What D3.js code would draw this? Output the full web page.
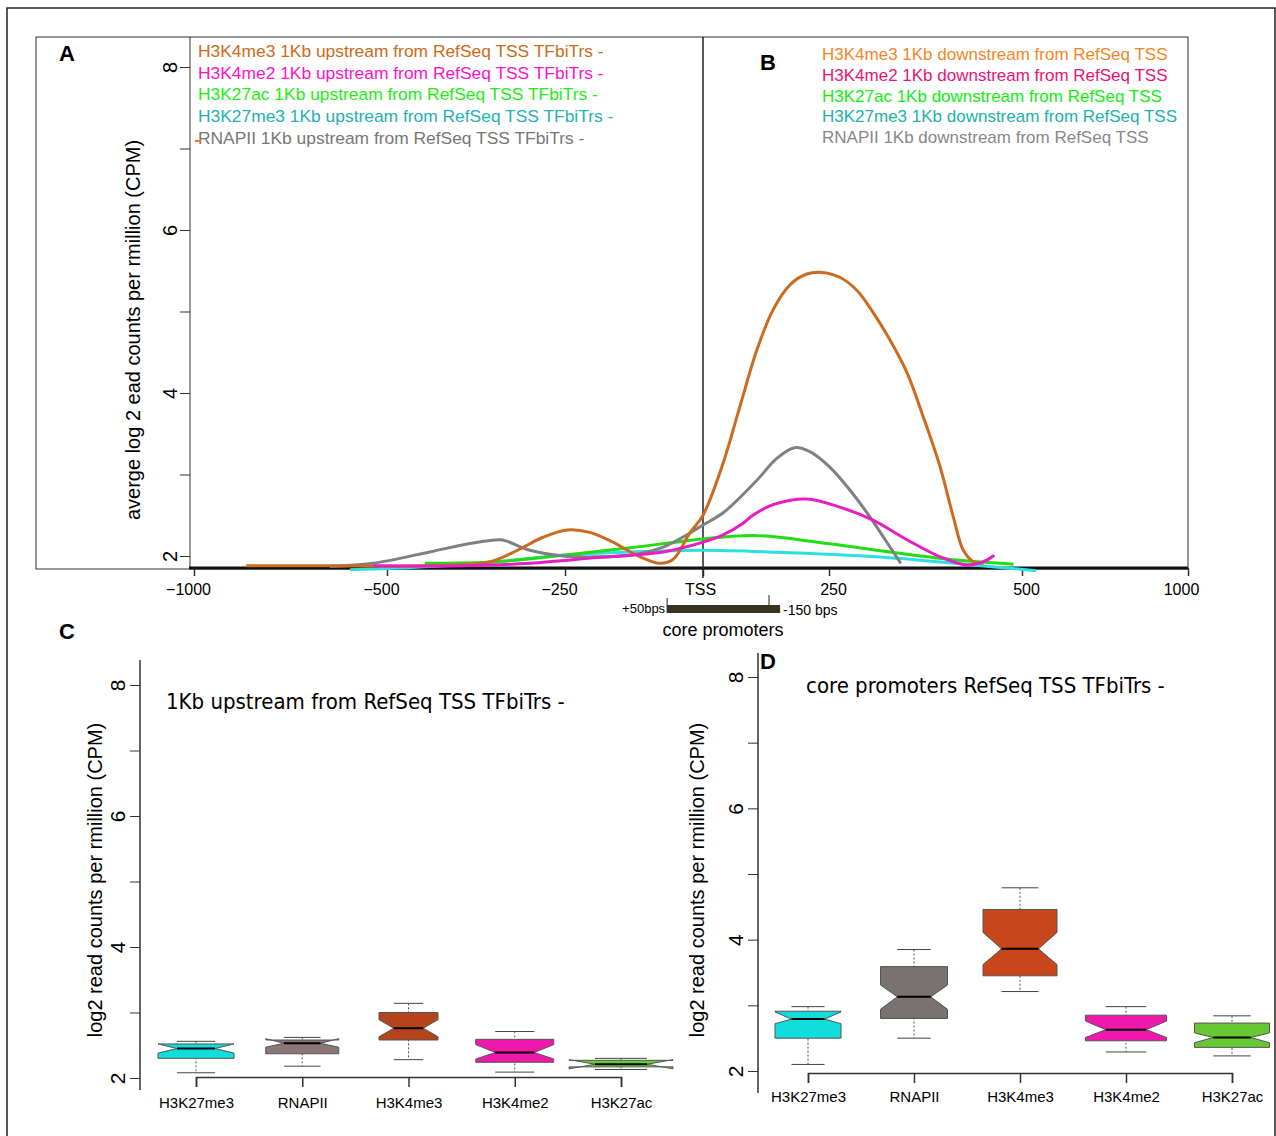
<!DOCTYPE html>
<html lang="en">
<head>
  <meta charset="UTF-8">
  <title>Histone marks around RefSeq TSS</title>
  <style>
  body {
    margin: 0;
    background: white;
  }
  svg {
    display: block;
    font-family: 'Liberation Sans', Arial, sans-serif;
  }
  .axis text {
    fill: #000;
  }
  .axis line {
    stroke: #333;
  }
  .title {
    font-family: 'DejaVu Sans Condensed', 'DejaVu Sans', sans-serif;
    font-stretch: condensed;
    font-size: 22px;
  }
  .letter {
    font-weight: bold;
    font-size: 22px;
  }
  </style>
</head>
<body>
  <script src="https://d3js.org/d3.v7.min.js"></script>
  <script>

  // ---- panel A/B: average profiles (bp from TSS, log2 CPM) ----
  var xTicksA = [-1000, -500, -250, 0, 250, 500, 1000];
  var yTicks = [2, 3, 4, 5, 6, 7, 8];

  var h3k4me3 = [[-865, 1.88], [-650, 1.88], [-450, 1.88], [-355, 1.93], [-317, 2.07], [-281, 2.23],
    [-246, 2.32], [-205, 2.29], [-163, 2.17], [-120, 2.01], [-78, 1.91], [-54, 1.96], [-24, 2.28],
    [0, 2.50], [40, 3.14], [73, 3.83], [107, 4.53], [139, 5.02], [173, 5.33], [206, 5.46],
    [236, 5.48], [264, 5.42], [286, 5.26], [307, 4.99], [329, 4.65], [351, 4.25], [372, 3.71],
    [394, 3.09], [411, 2.48], [424, 2.07], [437, 1.93], [450, 1.91]];
  var rnapii = [[-648, 1.87], [-536, 1.91], [-440, 2.05], [-379, 2.16], [-341, 2.20], [-331, 2.18],
    [-299, 2.07], [-253, 2.00], [-192, 1.99], [-132, 2.01], [-72, 2.11], [-24, 2.28], [0, 2.38],
    [40, 2.53], [107, 2.93], [147, 3.20], [183, 3.33], [212, 3.28], [251, 3.09], [277, 2.81],
    [303, 2.48], [329, 2.11], [343, 1.91]];
  var h3k4me2 = [[-536, 1.88], [-394, 1.88], [-299, 1.91], [-192, 1.98], [-72, 2.05], [0, 2.17],
    [40, 2.26], [79, 2.40], [99, 2.50], [139, 2.63], [206, 2.70], [264, 2.60], [307, 2.44],
    [351, 2.20], [394, 1.99], [428, 1.89], [450, 1.93], [464, 2.01]];
  var h3k27ac = [[-447, 1.91], [-346, 1.93], [-253, 2.01], [-132, 2.10], [0, 2.21], [107, 2.25],
    [227, 2.17], [329, 2.05], [416, 1.95], [489, 1.90]];
  var h3k27me3 = [[-596, 1.83], [-440, 1.87], [-346, 1.93], [-253, 2.01], [-132, 2.05], [0, 2.07],
    [173, 2.04], [329, 1.98], [437, 1.89], [542, 1.82]];

  var coreBar = [-65, 153];
  var coreMark = 131;

  var upstreamLabels = [
    'H3K4me3 1Kb upstream from RefSeq TSS TFbiTrs -',
    'H3K4me2 1Kb upstream from RefSeq TSS TFbiTrs -',
    'H3K27ac 1Kb upstream from RefSeq TSS TFbiTrs -',
    'H3K27me3 1Kb upstream from RefSeq TSS TFbiTrs -',
    'RNAPII 1Kb upstream from RefSeq TSS TFbiTrs -'
  ];
  var downstreamLabels = [
    'H3K4me3 1Kb downstream from RefSeq TSS',
    'H3K4me2 1Kb downstream from RefSeq TSS',
    'H3K27ac 1Kb downstream from RefSeq TSS',
    'H3K27me3 1Kb downstream from RefSeq TSS',
    'RNAPII 1Kb downstream from RefSeq TSS'
  ];

  // ---- panel C/D: boxplots ----
  var categories = ['H3K27me3', 'RNAPII', 'H3K4me3', 'H3K4me2', 'H3K27ac'];

  var upLow = [2.08, 2.18, 2.28, 2.09, 2.13];
  var upQ1 = [2.30, 2.37, 2.58, 2.24, 2.17];
  var upMed = [2.45, 2.53, 2.76, 2.39, 2.21];
  var upQ3 = [2.52, 2.58, 3.00, 2.59, 2.27];
  var upHigh = [2.56, 2.62, 3.14, 2.71, 2.30];
  var upNotchLo = [2.38, 2.47, 2.63, 2.29, 2.14];
  var upNotchHi = [2.52, 2.60, 2.89, 2.51, 2.28];

  var coreLow = [2.10, 2.50, 3.21, 2.29, 2.23];
  var coreQ1 = [2.50, 2.80, 3.45, 2.46, 2.36];
  var coreMed = [2.79, 3.13, 3.86, 2.63, 2.51];
  var coreQ3 = [2.91, 3.59, 4.46, 2.85, 2.73];
  var coreHigh = [2.98, 3.85, 4.79, 2.98, 2.84];
  var coreNotchLo = [2.72, 2.94, 3.62, 2.51, 2.43];
  var coreNotchHi = [2.90, 3.31, 4.11, 2.76, 2.58];

  // ---- styles ----
  var upColors = ['#cc6a1a', '#ff11cc', '#22ee11', '#22b2b2', '#777777'];
  var downColors = ['#f7851f', '#ee1177', '#11ee11', '#20b2aa', '#888888'];
  var upBoxColors = ['#11dddd', '#8c7575', '#b5441c', '#ee18aa', '#66cc33'];
  var coreBoxColors = ['#11dddd', '#7a7171', '#c8461b', '#ee18aa', '#66c833'];
  var upBoxWidths = [76, 73, 59, 78, 104];
  var coreBoxWidths = [66, 67, 74, 81, 75];

  var svg = d3.select('body').append('svg')
              .attr('width', 1276)
              .attr('height', 1136);

  svg.append('rect')
     .attr('x', 7).attr('y', 8)
     .attr('width', 1268).attr('height', 1140)
     .attr('fill', 'none')
     .attr('stroke', '#222')
     .attr('stroke-width', 1.5);

  // ================= panel A / B =================
  var xA = d3.scaleLinear().domain(xTicksA).range([194, 387, 565, 703, 829, 1022, 1188]);
  var yA = d3.scaleLinear().domain([2, 8]).range([556, 67]);

  svg.append('rect')
     .attr('x', 36).attr('y', 37)
     .attr('width', 1152).attr('height', 532)
     .attr('fill', 'none')
     .attr('stroke', '#333')
     .attr('stroke-width', 1);

  function rotatedYAxis(g, scale, shift, size) {
    g.call(d3.axisLeft(scale)
             .tickValues(yTicks)
             .tickSize(10)
             .tickFormat(function (d) { return d % 2 ? '' : d; }));
    g.select('.domain').remove();
    g.selectAll('.tick line')
     .attr('stroke', function (d) { return d % 2 ? '#888' : '#333'; });
    g.selectAll('.tick text')
     .attr('x', null)
     .attr('dy', '0.35em')
     .attr('text-anchor', 'middle')
     .attr('transform', 'translate(' + shift + ',0) rotate(-90)')
     .style('font-size', size + 'px');
  }

  var gyA = svg.append('g').attr('class', 'axis').attr('transform', 'translate(190,0)');
  rotatedYAxis(gyA, yA, -20, 20);
  svg.append('line')
     .attr('x1', 190).attr('x2', 190)
     .attr('y1', 37).attr('y2', 569)
     .attr('stroke', '#333');

  var gxA = svg.append('g').attr('class', 'axis').attr('transform', 'translate(0,568)');
  gxA.call(d3.axisBottom(xA)
             .tickValues(xTicksA)
             .tickSize(8)
             .tickPadding(8)
             .tickFormat(function (d) {
               if (d === 0) return 'TSS';
               return d < 0 ? '\u2212' + (-d) : d;
             }));
  gxA.select('.domain').remove();
  gxA.selectAll('.tick line').attr('stroke', '#111').attr('stroke-width', 1.5);
  gxA.selectAll('.tick text')
     .style('font-size', '16px')
     .attr('dx', function (d) { return d < 0 ? -6 : (d === 1000 ? -7 : (d === 0 ? -3 : 4)); });

  svg.append('line')
     .attr('x1', 189).attr('x2', 1188)
     .attr('y1', 568).attr('y2', 568)
     .attr('stroke', '#111')
     .attr('stroke-width', 3);

  svg.append('line')
     .attr('x1', xA(0)).attr('x2', xA(0))
     .attr('y1', 37).attr('y2', 578)
     .attr('stroke', '#222')
     .attr('stroke-width', 1.5);

  var line = d3.line()
               .x(function (d) { return xA(d[0]); })
               .y(function (d) { return yA(d[1]); })
               .curve(d3.curveCatmullRom.alpha(0.5));

  var curves = [
    { data: h3k27me3, color: '#2ae0e0' },
    { data: h3k27ac, color: '#22dd11' },
    { data: rnapii, color: '#808080' },
    { data: h3k4me3, color: '#cc6a1f' },
    { data: h3k4me2, color: '#e81ec4' }
  ];

  svg.append('g')
     .selectAll('path')
     .data(curves)
     .enter()
     .append('path')
     .attr('d', function (d) { return line(d.data); })
     .attr('fill', 'none')
     .attr('stroke', function (d) { return d.color; })
     .attr('stroke-width', 3);

  // core promoter bar
  svg.append('rect')
     .attr('x', xA(coreBar[0]))
     .attr('y', 605)
     .attr('width', xA(coreBar[1]) - xA(coreBar[0]))
     .attr('height', 8)
     .attr('fill', '#3b3322');
  svg.append('line')
     .attr('x1', xA(coreBar[0])).attr('x2', xA(coreBar[0]))
     .attr('y1', 598).attr('y2', 613)
     .attr('stroke', '#222');
  svg.append('line')
     .attr('x1', xA(coreMark)).attr('x2', xA(coreMark))
     .attr('y1', 595).attr('y2', 606)
     .attr('stroke', '#222');
  svg.append('text')
     .attr('x', xA(coreBar[0]) - 2).attr('y', 613)
     .attr('text-anchor', 'end')
     .style('font-size', '13px')
     .text('+50bps');
  svg.append('text')
     .attr('x', xA(coreBar[1]) + 3).attr('y', 615)
     .style('font-size', '14px')
     .text('-150 bps');
  svg.append('text')
     .attr('x', 723).attr('y', 636)
     .attr('text-anchor', 'middle')
     .style('font-size', '18px')
     .text('core promoters');

  svg.append('text')
     .attr('x', 133).attr('y', 330)
     .attr('transform', 'rotate(-90,133,330)')
     .attr('text-anchor', 'middle')
     .attr('dy', '0.35em')
     .style('font-size', '20px')
     .text('averge log 2 ead counts per rmillion (CPM)');

  svg.append('g')
     .selectAll('text')
     .data(upstreamLabels)
     .enter()
     .append('text')
     .attr('x', 198)
     .attr('y', function (d, i) { return 57 + i * 21.7; })
     .attr('fill', function (d, i) { return upColors[i]; })
     .style('font-size', '17.4px')
     .text(function (d) { return d; });

  svg.append('line')
     .attr('x1', 195).attr('x2', 201)
     .attr('y1', 141).attr('y2', 141)
     .attr('stroke', '#f07a20')
     .attr('stroke-width', 2);

  svg.append('g')
     .selectAll('text')
     .data(downstreamLabels)
     .enter()
     .append('text')
     .attr('x', 822)
     .attr('y', function (d, i) { return 60 + i * 20.8; })
     .attr('fill', function (d, i) { return downColors[i]; })
     .style('font-size', '17px')
     .text(function (d) { return d; });

  // ================= panel C / D =================
  function boxPanel(o) {
    var y = d3.scaleLinear().domain([2, 8]).range(o.yRange);
    var x = d3.scalePoint().domain(categories).range(o.xRange);

    var gy = svg.append('g').attr('class', 'axis').attr('transform', 'translate(' + o.axisX + ',0)');
    rotatedYAxis(gy, y, -22, 21);
    svg.append('line')
       .attr('x1', o.axisX).attr('x2', o.axisX)
       .attr('y1', o.axisTop).attr('y2', o.axisBottom)
       .attr('stroke', '#333')
       .attr('stroke-width', 1.5);

    var gx = svg.append('g').attr('class', 'axis').attr('transform', 'translate(0,' + o.baseY + ')');
    gx.call(d3.axisBottom(x).tickSize(10).tickPadding(o.labelPad));
    gx.select('.domain').attr('stroke', '#333').attr('stroke-width', 1.5);
    gx.selectAll('.tick line').attr('stroke-width', 1.5);
    gx.selectAll('.tick text').style('font-size', '15px');

    var boxes = categories.map(function (c, i) {
      return {
        cat: c, low: o.low[i], q1: o.q1[i], med: o.med[i], q3: o.q3[i], high: o.high[i],
        nlo: o.nlo[i], nhi: o.nhi[i], color: o.colors[i], w: o.widths[i]
      };
    });

    var g = svg.append('g')
               .selectAll('g')
               .data(boxes)
               .enter()
               .append('g');

    g.append('line')
     .attr('x1', function (d) { return x(d.cat); })
     .attr('x2', function (d) { return x(d.cat); })
     .attr('y1', function (d) { return y(d.high); })
     .attr('y2', function (d) { return y(d.low); })
     .attr('stroke', '#555')
     .attr('stroke-dasharray', '2,2');

    ['high', 'low'].forEach(function (k) {
      g.append('line')
       .attr('x1', function (d) { return x(d.cat) - d.w / 4; })
       .attr('x2', function (d) { return x(d.cat) + d.w / 4; })
       .attr('y1', function (d) { return y(d[k]); })
       .attr('y2', function (d) { return y(d[k]); })
       .attr('stroke', '#444');
    });

    g.append('path')
     .attr('d', function (d) {
       var l = x(d.cat) - d.w / 2, r = x(d.cat) + d.w / 2, n = d.w / 4;
       var pts = [[l, y(d.q1)], [l, y(d.nlo)], [l + n, y(d.med)], [l, y(d.nhi)], [l, y(d.q3)],
                  [r, y(d.q3)], [r, y(d.nhi)], [r - n, y(d.med)], [r, y(d.nlo)], [r, y(d.q1)]];
       return 'M' + pts.join('L') + 'Z';
     })
     .attr('fill', function (d) { return d.color; })
     .attr('stroke', '#555')
     .attr('stroke-width', 1);

    g.append('line')
     .attr('x1', function (d) { return x(d.cat) - d.w / 4; })
     .attr('x2', function (d) { return x(d.cat) + d.w / 4; })
     .attr('y1', function (d) { return y(d.med); })
     .attr('y2', function (d) { return y(d.med); })
     .attr('stroke', '#000')
     .attr('stroke-width', 2);

    svg.append('text')
       .attr('class', 'title')
       .attr('x', o.titleX).attr('y', o.titleY)
       .text(o.title);

    svg.append('text')
       .attr('x', o.labelX).attr('y', 880)
       .attr('transform', 'rotate(-90,' + o.labelX + ',880)')
       .attr('text-anchor', 'middle')
       .attr('dy', '0.35em')
       .style('font-size', '20px')
       .text('log2 read counts per rmillion (CPM)');
  }

  boxPanel({
    yRange: [1078, 685], xRange: [196, 621], axisX: 140, axisTop: 660, axisBottom: 1090,
    baseY: 1077, labelPad: 10, low: upLow, q1: upQ1, med: upMed, q3: upQ3, high: upHigh,
    nlo: upNotchLo, nhi: upNotchHi, colors: upBoxColors, widths: upBoxWidths,
    title: '1Kb upstream from RefSeq TSS TFbiTrs -', titleX: 166, titleY: 709, labelX: 95
  });

  boxPanel({
    yRange: [1071, 677], xRange: [808, 1232], axisX: 758, axisTop: 653, axisBottom: 1093,
    baseY: 1073, labelPad: 8, low: coreLow, q1: coreQ1, med: coreMed, q3: coreQ3, high: coreHigh,
    nlo: coreNotchLo, nhi: coreNotchHi, colors: coreBoxColors, widths: coreBoxWidths,
    title: 'core promoters RefSeq TSS TFbiTrs -', titleX: 806, titleY: 693, labelX: 697
  });

  // panel letters
  var letters = [['A', 67, 53], ['B', 768, 62], ['C', 67, 631], ['D', 768, 661]];
  svg.append('g')
     .selectAll('text')
     .data(letters)
     .enter()
     .append('text')
     .attr('class', 'letter')
     .attr('x', function (d) { return d[1]; })
     .attr('y', function (d) { return d[2]; })
     .attr('text-anchor', 'middle')
     .attr('dy', '0.35em')
     .text(function (d) { return d[0]; });
  </script>
</body>
</html>
